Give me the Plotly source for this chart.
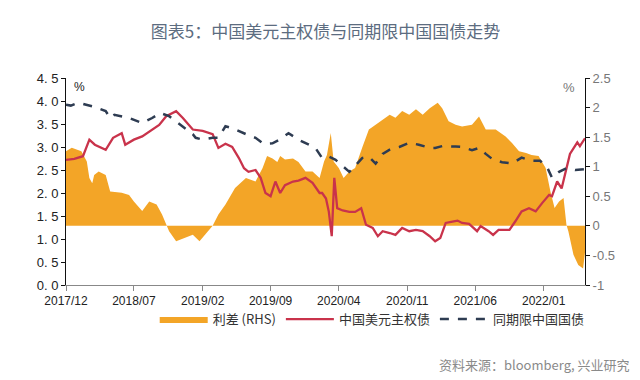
import plotly.graph_objects as go

# 中国美元主权债 (left axis, %)
usd_dates = ["2017-12-01","2017-12-27","2018-01-23","2018-02-12","2018-03-01","2018-04-04","2018-04-27","2018-05-24","2018-06-04","2018-07-01","2018-07-27","2018-08-21","2018-09-18","2018-10-10","2018-11-10","2018-12-01","2019-01-01","2019-02-01","2019-03-04","2019-03-22","2019-04-13","2019-05-04","2019-05-25","2019-06-10","2019-06-24","2019-07-16","2019-08-01","2019-08-16","2019-09-01","2019-09-16","2019-10-01","2019-10-16","2019-11-10","2019-11-27","2019-12-19","2020-01-10","2020-02-01","2020-02-09","2020-02-21","2020-03-01","2020-03-10","2020-03-18","2020-03-27","2020-04-13","2020-05-04","2020-05-22","2020-06-10","2020-06-25","2020-07-16","2020-08-01","2020-08-16","2020-09-07","2020-09-25","2020-10-16","2020-11-07","2020-11-28","2020-12-19","2021-01-10","2021-01-27","2021-02-12","2021-03-01","2021-03-22","2021-04-07","2021-04-21","2021-05-13","2021-06-07","2021-06-18","2021-07-13","2021-07-27","2021-08-13","2021-09-16","2021-10-04","2021-10-24","2021-11-16","2021-12-07","2021-12-27","2022-01-18","2022-01-27","2022-02-12","2022-02-26","2022-03-10","2022-03-24","2022-04-16","2022-04-24","2022-05-10"]
usd_vals = [2.72,2.74,2.80,3.16,3.05,2.94,3.20,3.30,3.05,3.16,3.23,3.34,3.48,3.67,3.78,3.63,3.38,3.35,3.28,2.98,3.07,3.00,2.76,2.54,2.46,2.50,2.33,2.00,1.93,2.25,2.00,2.17,2.25,2.27,2.33,2.22,2.00,2.00,1.88,1.59,1.06,2.33,1.67,1.62,1.59,1.59,1.67,1.31,1.24,1.06,1.17,1.13,1.09,1.24,1.17,1.20,1.17,1.06,0.95,1.02,1.35,1.38,1.40,1.35,1.33,1.17,1.28,1.17,1.09,1.20,1.20,1.38,1.60,1.67,1.60,1.78,1.96,1.93,2.25,2.10,2.46,2.85,3.10,3.02,3.19]

# 同期限中国国债 (left axis, %)
cgb_dates = ["2017-12-01","2017-12-16","2018-01-07","2018-01-22","2018-03-01","2018-04-04","2018-04-18","2018-05-01","2018-06-16","2018-07-27","2018-08-27","2018-09-21","2018-10-19","2018-12-01","2019-01-01","2019-01-10","2019-02-01","2019-03-04","2019-03-22","2019-04-13","2019-05-04","2019-06-16","2019-07-16","2019-08-10","2019-09-07","2019-10-01","2019-10-27","2019-11-27","2020-01-01","2020-01-19","2020-02-09","2020-03-01","2020-03-22","2020-04-13","2020-05-04","2020-05-22","2020-06-13","2020-07-04","2020-07-25","2020-08-16","2020-09-07","2020-10-07","2020-11-07","2020-12-07","2021-01-10","2021-01-27","2021-02-18","2021-04-01","2021-04-21","2021-05-22","2021-06-13","2021-07-04","2021-07-24","2021-08-24","2021-09-24","2021-10-24","2021-11-24","2021-12-21","2022-01-13","2022-01-27","2022-02-18","2022-03-13","2022-04-10","2022-05-10"]
cgb_vals = [3.92,3.90,3.96,3.94,3.87,3.78,3.63,3.70,3.63,3.52,3.63,3.74,3.67,3.45,3.28,3.20,3.16,3.20,3.20,3.45,3.41,3.28,3.20,3.07,3.08,3.17,3.30,3.16,3.05,2.98,2.76,2.79,2.72,2.59,2.46,2.59,2.76,2.79,2.64,2.85,2.94,3.00,3.09,3.05,2.98,2.98,3.02,3.01,3.00,2.93,2.98,2.85,2.74,2.67,2.64,2.77,2.70,2.70,2.54,2.33,2.46,2.54,2.50,2.52]

# 利差 (right axis, %)
spr_dates = ["2017-12-01","2017-12-19","2018-01-18","2018-02-04","2018-02-12","2018-02-21","2018-02-27","2018-03-13","2018-04-04","2018-04-18","2018-05-24","2018-06-16","2018-07-01","2018-07-27","2018-08-18","2018-09-10","2018-09-27","2018-10-10","2018-10-19","2018-11-10","2018-12-10","2019-01-01","2019-01-22","2019-02-09","2019-03-04","2019-03-22","2019-04-13","2019-05-13","2019-06-16","2019-07-16","2019-08-07","2019-08-21","2019-09-07","2019-09-22","2019-10-01","2019-10-16","2019-11-10","2019-11-27","2019-12-19","2020-01-10","2020-02-01","2020-02-15","2020-02-24","2020-03-07","2020-03-16","2020-04-01","2020-04-16","2020-05-04","2020-05-22","2020-06-13","2020-07-04","2020-07-25","2020-08-16","2020-09-07","2020-09-25","2020-10-16","2020-11-07","2020-11-28","2020-12-19","2021-01-10","2021-02-04","2021-02-18","2021-03-10","2021-04-01","2021-04-21","2021-05-22","2021-06-13","2021-07-04","2021-08-04","2021-09-04","2021-09-24","2021-10-16","2021-11-07","2021-11-24","2021-12-16","2022-01-07","2022-01-22","2022-02-04","2022-02-18","2022-03-04","2022-03-13","2022-03-19","2022-04-04","2022-04-19","2022-05-04","2022-05-10"]
spr_vals = [1.26,1.32,1.26,1.09,0.81,0.72,0.86,0.92,0.86,0.58,0.56,0.52,0.41,0.25,0.41,0.36,0.19,0.02,-0.09,-0.26,-0.20,-0.15,-0.26,-0.15,0.00,0.19,0.36,0.64,0.81,0.75,0.98,1.18,1.14,1.08,1.18,1.12,1.14,1.08,0.92,0.92,0.81,1.09,1.20,1.57,1.09,0.98,0.81,0.92,0.98,1.32,1.63,1.71,1.80,1.88,1.83,1.94,1.88,1.97,1.88,1.99,2.08,1.99,1.77,1.71,1.68,1.71,1.85,1.63,1.63,1.51,1.40,1.26,1.23,1.20,1.18,0.98,0.58,0.30,0.41,0.47,0.02,-0.09,-0.49,-0.66,-0.72,-0.45]

x_tickvals = ["2017-12-01","2018-07-01","2019-02-01","2019-09-01","2020-04-01","2020-11-01","2021-06-01","2022-01-01"]
x_ticktext = ["2017/12","2018/07","2019/02","2019/09","2020/04","2020/11","2021/06","2022/01"]
left_tickvals = [0,0.5,1,1.5,2,2.5,3,3.5,4,4.5]
left_ticktext = ["0. 0","0. 5","1. 0","1. 5","2. 0","2. 5","3. 0","3. 5","4. 0","4. 5"]
right_tickvals = [-1,-0.5,0,0.5,1,1.5,2,2.5]
right_ticktext = ["-1","-0.5","0","0.5","1","1.5","2","2.5"]

ORANGE = "#F3A527"
RED = "#C9334B"
NAVY = "#2E3C52"

fig = go.Figure()
fig.add_trace(go.Scatter(x=spr_dates, y=spr_vals, name="利差 (RHS)", mode="lines",
                         line=dict(width=0, color=ORANGE), fill="tozeroy",
                         fillcolor=ORANGE, yaxis="y"))
fig.add_trace(go.Scatter(x=usd_dates, y=usd_vals, name="中国美元主权债", mode="lines",
                         line=dict(width=2.3, color=RED), yaxis="y2"))
fig.add_trace(go.Scatter(x=cgb_dates, y=cgb_vals, name="同期限中国国债", mode="lines",
                         line=dict(width=2.5, color=NAVY, dash="dash"), yaxis="y2"))

tickfont = dict(family="Liberation Sans, Arial, sans-serif", size=12, color="#222")
fig.update_layout(
    width=640, height=380,
    margin=dict(l=58, r=63, t=70, b=103),
    paper_bgcolor="white", plot_bgcolor="white",
    showlegend=True,
    xaxis=dict(type="date", range=["2017-12-01", "2022-05-10"],
               tickvals=x_tickvals, ticktext=x_ticktext, tickfont=tickfont,
               showgrid=False, showline=True, linecolor="#888", linewidth=1,
               ticks="outside", ticklen=5, tickcolor="#888", zeroline=False),
    yaxis=dict(range=[-1, 2.5], side="right", tickvals=right_tickvals, ticktext=right_ticktext,
               tickfont=dict(family="Liberation Sans, Arial, sans-serif", size=13, color="#777"),
               showgrid=False, zeroline=False, showline=True, linecolor="#111", linewidth=1,
               ticks="outside", ticklen=4, tickcolor="#111"),
    yaxis2=dict(range=[0, 4.5], side="left", overlaying="y", tickvals=left_tickvals,
                ticktext=left_ticktext,
                tickfont=dict(family="Liberation Sans, Arial, sans-serif", size=13, color="#222"),
                showgrid=False, zeroline=False, showline=True, linecolor="#111", linewidth=1,
                ticks="outside", ticklen=4, tickcolor="#111"),
    legend=dict(orientation="h", x=0.59, xanchor="center", y=-0.165, yanchor="middle",
                itemwidth=48,
                font=dict(family="Noto Sans CJK SC", size=13, color="#333"),
                bgcolor="rgba(0,0,0,0)", traceorder="normal"),
    title=dict(text="图表5：中国美元主权债与同期限中国国债走势", x=0.5, xref="paper",
               xanchor="center", y=1 - 24 / 380, yanchor="middle",
               font=dict(family="Noto Sans CJK SC", size=17, color="#5C6C80")),
)
fig.add_annotation(text="%", xref="paper", yref="paper", x=0.012, y=1.0, xanchor="left",
                   yanchor="top", showarrow=False,
                   font=dict(family="Liberation Sans", size=12, color="#222"))
fig.add_annotation(text="%", xref="paper", yref="paper", x=0.985, y=1.0, xanchor="right",
                   yanchor="top", showarrow=False,
                   font=dict(family="Liberation Sans", size=13, color="#777"))
fig.add_annotation(text="资料来源：bloomberg, 兴业研究", xref="paper", yref="paper",
                   x=1.09, y=-0.386, xanchor="right", yanchor="middle", showarrow=False,
                   font=dict(family="Noto Sans CJK SC", size=13, color="#8A8A8A"))

fig.write_html("out.html")
